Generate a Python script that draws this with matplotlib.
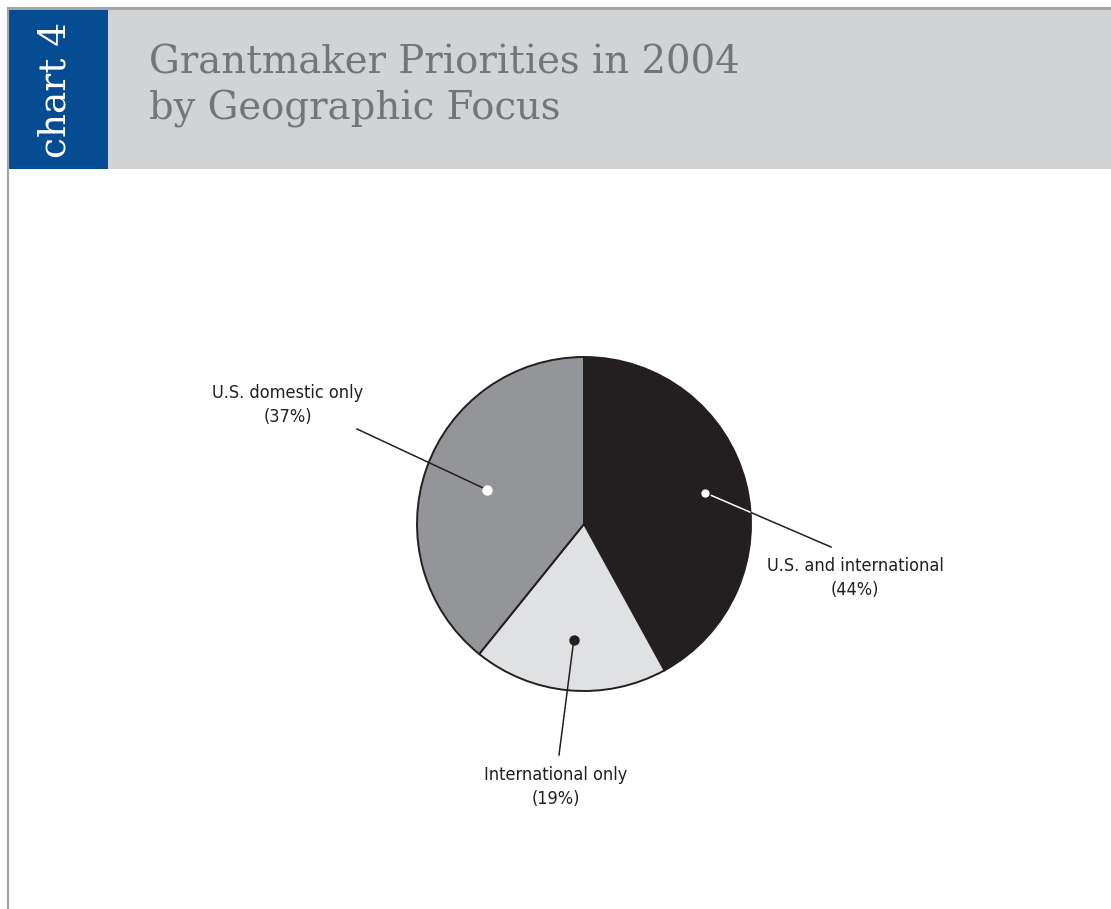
import matplotlib
matplotlib.use("Agg")
import matplotlib.pyplot as plt
from matplotlib.patches import Rectangle
from matplotlib import font_manager as fm
import numpy as np

# ---- data ----
categories = ["U.S. and international", "International only", "U.S. domestic only"]
label_pcts = [44, 19, 37]          # percentages printed in the labels
slice_shares = [42, 18.8, 39.2]    # slice sizes as drawn in the picture
slice_colors = ["#231f20", "#e0e1e3", "#939598"]
dot_colors = ["white", "#231f20", "white"]

title_text = "Grantmaker Priorities in 2004\nby Geographic Focus"
tab_text = "chart 4"

# pick a condensed sans if one exists
cond = None
for f in fm.fontManager.ttflist:
    n = f.name.lower()
    if ("narrow" in n or "condensed" in n or f.stretch in ("condensed", "semi-condensed")) and "sans" in n:
        if f.weight in (400, "normal", "regular"):
            cond = f
            break
if cond is not None:
    label_kw = dict(family=[cond.name, "DejaVu Sans"], fontstretch=cond.stretch, fontsize=13)
else:
    label_kw = dict(family=["Roboto", "DejaVu Sans"], fontsize=12)

W, H = 1111, 909
fig = plt.figure(figsize=(W / 100, H / 100), dpi=100)
ax = fig.add_axes([0, 0, 1, 1])

def Y(p):
    return H - p

# ---- pie ----
cx, cy, R = 584, 524, 167
wedges, _ = ax.pie(slice_shares, colors=slice_colors, startangle=90,
                   counterclock=False, center=(cx, Y(cy)), radius=R,
                   wedgeprops=dict(edgecolor="#231f20", linewidth=1.4))

ax.set_xlim(0, W)
ax.set_ylim(0, H)
ax.set_aspect("auto")
ax.axis("off")

# ---- header ----
ax.add_patch(Rectangle((7, Y(169)), W - 7, 162, facecolor="#d1d3d4", edgecolor="none", zorder=1))
ax.add_patch(Rectangle((8, Y(169)), 100, 161, facecolor="#064c93", edgecolor="none", zorder=2))
ax.plot([7, W], [Y(7.5), Y(7.5)], color="#a3a5a8", lw=2.2, solid_capstyle="butt", zorder=3)
ax.plot([7.5, 7.5], [Y(7), 0], color="#a3a5a8", lw=1.6, solid_capstyle="butt", zorder=3)

ax.text(56, Y(90), tab_text, rotation=90, color="white", fontsize=27,
        family="DejaVu Serif", ha="center", va="center", zorder=4)
ax.text(149, Y(120), title_text, color="#747578", fontsize=27.8,
        family="DejaVu Serif", ha="left", va="baseline", linespacing=1.3, zorder=4)

# ---- leader lines, dots, labels ----
dot_r = [0.75, 0.70, 0.615]
leader_end = [(831, 547), (559, 755), (357, 429)]
label_pos = [(855, 578), (556, 787), (288, 405)]

for i, w in enumerate(wedges):
    mid = np.deg2rad((w.theta1 + w.theta2) / 2)
    dx = cx + dot_r[i] * R * np.cos(mid)
    dy = Y(cy) + dot_r[i] * R * np.sin(mid)
    ex, ey = leader_end[i]
    ax.plot([dx, ex], [dy, Y(ey)], color="#231f20", lw=1.1, zorder=5)
    if i == 0:
        ln, = ax.plot([dx, ex], [dy, Y(ey)], color="white", lw=1.1, zorder=6)
        ln.set_clip_path(w)
    ax.plot(dx, dy, "o", ms=7.5 if i != 0 else 7, mfc=dot_colors[i],
            mec="#231f20" if i == 0 else dot_colors[i], mew=1.0 if i == 0 else 0, zorder=7)
    lx, ly = label_pos[i]
    ax.text(lx, Y(ly), f"{categories[i]}\n({label_pcts[i]}%)", ha="center", va="center",
            multialignment="center", color="#231f20", linespacing=1.45, zorder=8, **label_kw)

fig.savefig("out.png", dpi=100, facecolor="white")
